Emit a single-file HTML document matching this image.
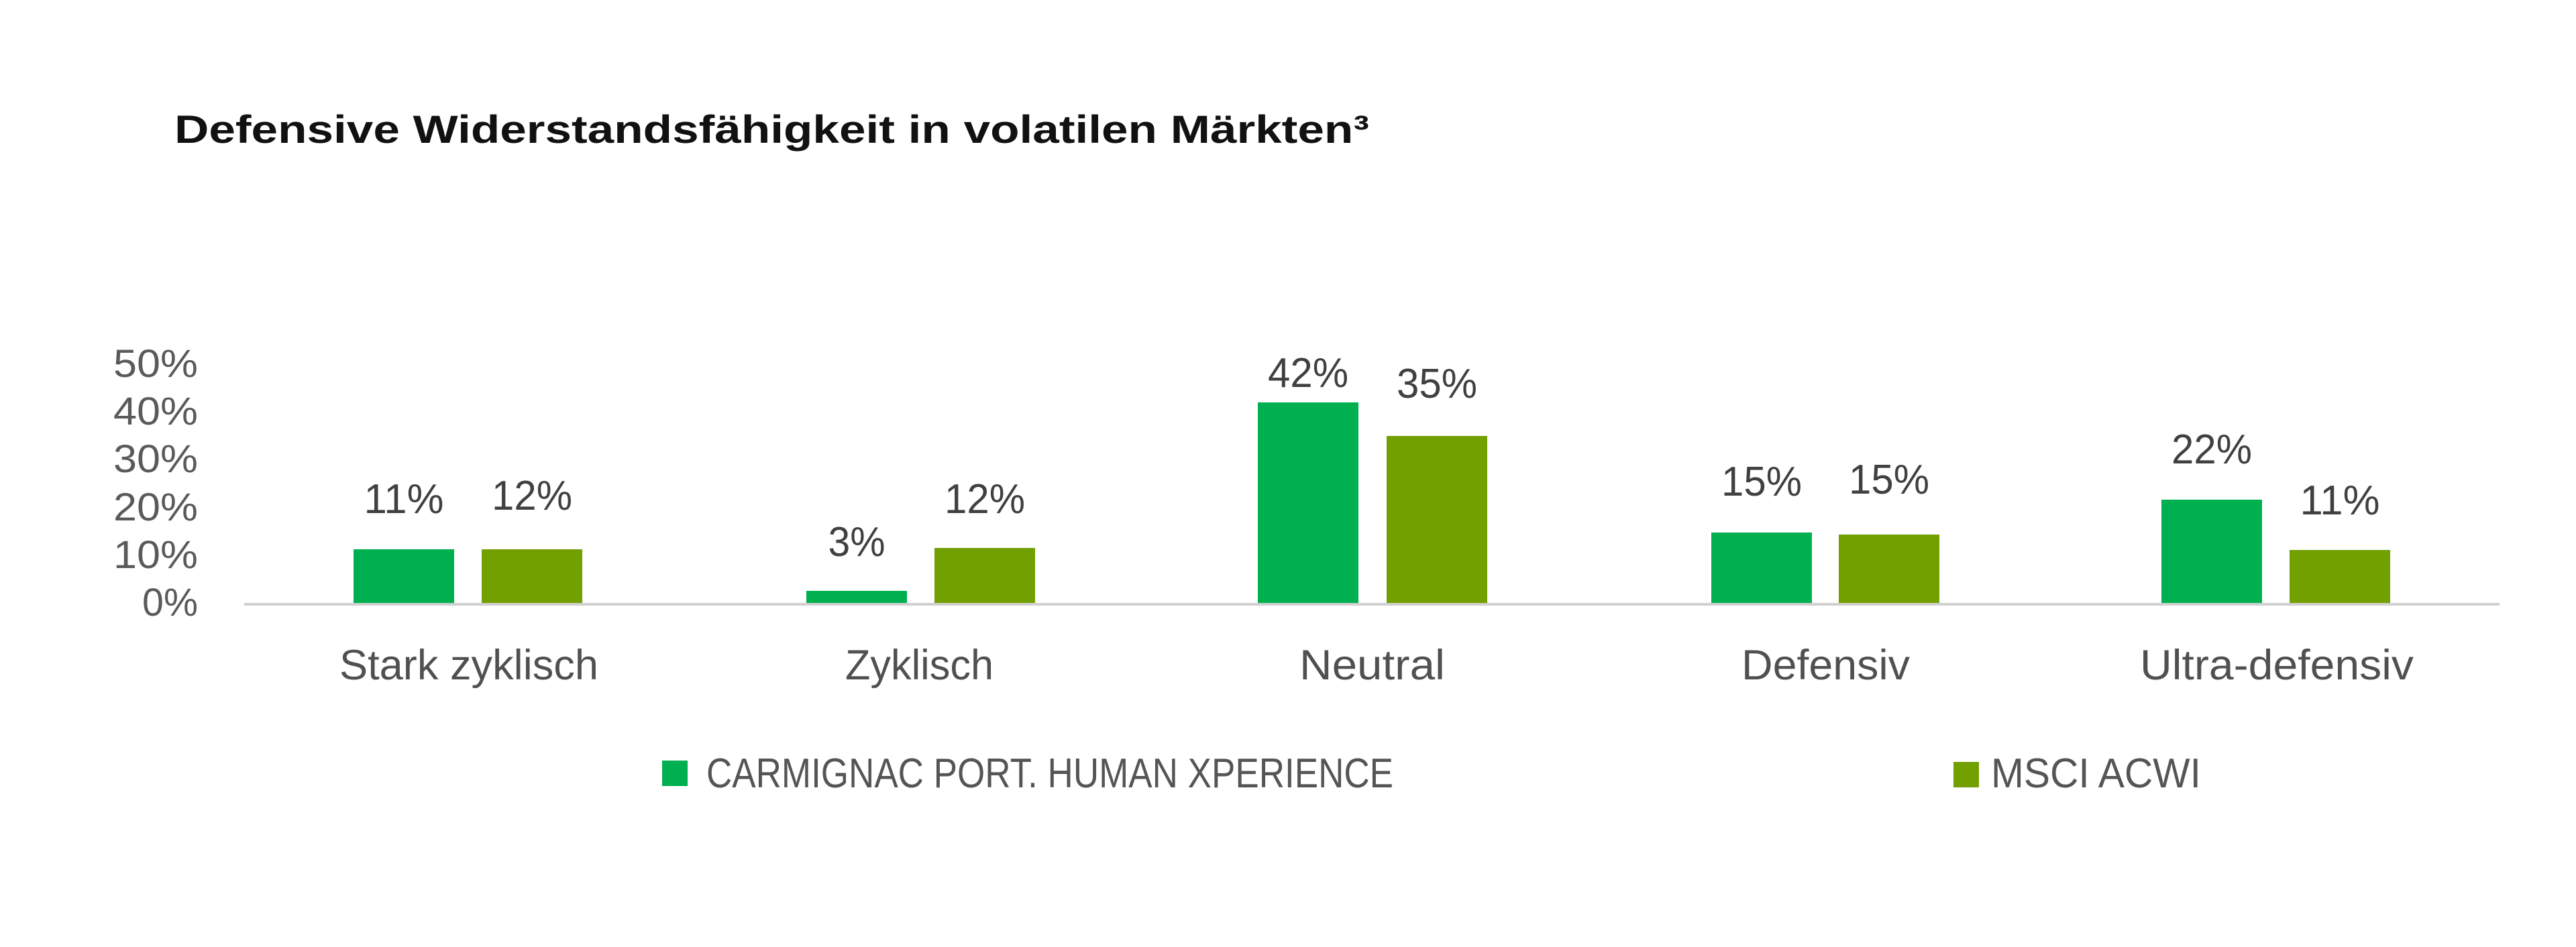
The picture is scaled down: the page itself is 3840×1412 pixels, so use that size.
<!DOCTYPE html>
<html><head><meta charset="utf-8"><style>
html,body{margin:0;padding:0;background:#fff;}
svg{display:block;}
text{font-family:"Liberation Sans",sans-serif;}
</style></head><body>
<svg width="3840" height="1412" viewBox="0 0 3840 1412" xmlns="http://www.w3.org/2000/svg">
<rect width="3840" height="1412" fill="#fff"/>
<text x="260" y="213" font-size="58" font-weight="bold" fill="#111" textLength="1781" lengthAdjust="spacingAndGlyphs">Defensive Widerstandsfähigkeit in volatilen Märkten³</text>
<g font-size="58" fill="#5a5a5a" text-anchor="end">
<text x="295" y="562" textLength="126" lengthAdjust="spacingAndGlyphs">50%</text>
<text x="295" y="633" textLength="126" lengthAdjust="spacingAndGlyphs">40%</text>
<text x="295" y="704" textLength="126" lengthAdjust="spacingAndGlyphs">30%</text>
<text x="295" y="776" textLength="126" lengthAdjust="spacingAndGlyphs">20%</text>
<text x="295" y="847" textLength="126" lengthAdjust="spacingAndGlyphs">10%</text>
<text x="295" y="918" textLength="83" lengthAdjust="spacingAndGlyphs">0%</text>
</g>
<line x1="364" y1="901" x2="3726" y2="901" stroke="#d0d0d0" stroke-width="4"/>
<g fill="#00b050">
<rect x="527" y="819" width="150" height="80"/>
<rect x="1202" y="881" width="150" height="18"/>
<rect x="1875" y="600" width="150" height="299"/>
<rect x="2551" y="794" width="150" height="105"/>
<rect x="3222" y="745" width="150" height="154"/>
</g>
<g fill="#72a000">
<rect x="718" y="819" width="150" height="80"/>
<rect x="1393" y="817" width="150" height="82"/>
<rect x="2067" y="650" width="150" height="249"/>
<rect x="2741" y="797" width="150" height="102"/>
<rect x="3413" y="820" width="150" height="79"/>
</g>
<g font-size="62" fill="#404040" text-anchor="middle">
<text x="602" y="765" textLength="119" lengthAdjust="spacingAndGlyphs">11%</text>
<text x="793" y="760" textLength="120" lengthAdjust="spacingAndGlyphs">12%</text>
<text x="1277" y="829" textLength="85" lengthAdjust="spacingAndGlyphs">3%</text>
<text x="1468" y="765" textLength="120" lengthAdjust="spacingAndGlyphs">12%</text>
<text x="1950" y="577" textLength="120" lengthAdjust="spacingAndGlyphs">42%</text>
<text x="2142" y="593" textLength="120" lengthAdjust="spacingAndGlyphs">35%</text>
<text x="2626" y="739" textLength="120" lengthAdjust="spacingAndGlyphs">15%</text>
<text x="2816" y="736" textLength="120" lengthAdjust="spacingAndGlyphs">15%</text>
<text x="3297" y="691" textLength="120" lengthAdjust="spacingAndGlyphs">22%</text>
<text x="3488" y="767" textLength="119" lengthAdjust="spacingAndGlyphs">11%</text>
</g>
<g font-size="63" fill="#505050">
<text x="506" y="1013" textLength="386" lengthAdjust="spacingAndGlyphs">Stark zyklisch</text>
<text x="1260" y="1013" textLength="221" lengthAdjust="spacingAndGlyphs">Zyklisch</text>
<text x="1937" y="1013" textLength="217" lengthAdjust="spacingAndGlyphs">Neutral</text>
<text x="2596" y="1013" textLength="251" lengthAdjust="spacingAndGlyphs">Defensiv</text>
<text x="3190" y="1013" textLength="408" lengthAdjust="spacingAndGlyphs">Ultra-defensiv</text>
</g>
<rect x="987" y="1134" width="38" height="38" fill="#00b050"/>
<text x="1053" y="1174" font-size="62" fill="#555" textLength="1024" lengthAdjust="spacingAndGlyphs">CARMIGNAC PORT. HUMAN XPERIENCE</text>
<rect x="2912" y="1136" width="38" height="38" fill="#72a000"/>
<text x="2968" y="1174" font-size="62" fill="#555" textLength="313" lengthAdjust="spacingAndGlyphs">MSCI ACWI</text>
</svg>
</body></html>
